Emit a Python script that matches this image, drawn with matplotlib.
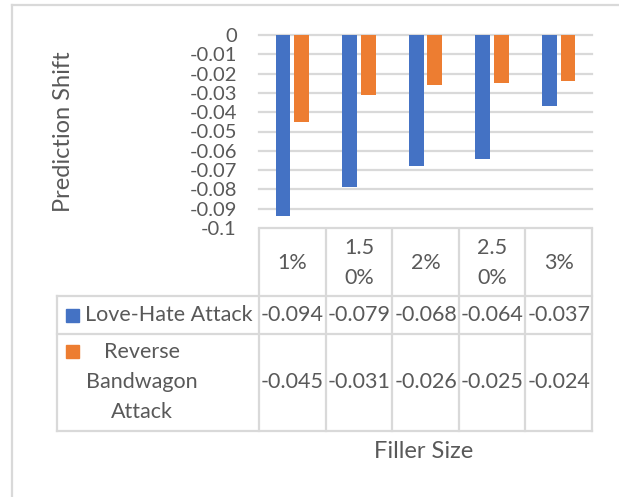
import matplotlib.pyplot as plt
import matplotlib.transforms as mtransforms
from matplotlib.lines import Line2D
from matplotlib.patches import Rectangle
import numpy as np

# data
filler_sizes = ['1%', '1.5\n0%', '2%', '2.5\n0%', '3%']
love_hate = [-0.094, -0.079, -0.068, -0.064, -0.037]
reverse_bandwagon = [-0.045, -0.031, -0.026, -0.025, -0.024]
series_names = ['Love-Hate Attack', 'Reverse\nBandwagon\nAttack']
y_ticks = [0, -0.01, -0.02, -0.03, -0.04, -0.05, -0.06, -0.07, -0.08, -0.09, -0.1]

blue = '#4472C4'
orange = '#ED7D31'
grid_c = '#D9D9D9'
text_c = '#595959'

plt.rcParams['font.family'] = ['Lato', 'DejaVu Sans']

W, H = 619, 497
fig = plt.figure(figsize=(W / 100, H / 100), dpi=100)


def fx(px):
    return px / W


def fy(py):
    return 1 - py / H


# plot area in pixel coords: x 259..592, y 35..228
ax = fig.add_axes([fx(259), fy(228), fx(592) - fx(259), fy(35) - fy(228)])
x = np.arange(len(filler_sizes))
ax.bar(x - 0.14, love_hate, width=0.22, color=blue, zorder=3)
ax.bar(x + 0.14, reverse_bandwagon, width=0.22, color=orange, zorder=3)
ax.set_xlim(-0.5, len(filler_sizes) - 0.5)
ax.set_ylim(-0.1, 0)
ax.set_yticks(y_ticks)
ax.set_yticklabels(['{:g}'.format(t) for t in y_ticks])
ax.set_xticks([])
ax.tick_params(axis='y', length=0, pad=16, labelsize=14.5, labelcolor=text_c)
for s in ax.spines.values():
    s.set_visible(False)
for t in y_ticks:
    ax.axhline(t, color=grid_c, lw=1.6, zorder=1, clip_on=False)

# data table below the plot
tr = mtransforms.blended_transform_factory(ax.transData, fig.transFigure)
row_top, row_hdr, row1, row2 = 229, 296, 334, 431
edges = np.arange(len(filler_sizes) + 1) - 0.5
for e in edges:
    fig.add_artist(Line2D([e, e], [fy(row_top), fy(row2)], transform=tr,
                          color=grid_c, lw=1.6))
for yy in [row_hdr, row1, row2]:
    fig.add_artist(Line2D([fx(57), fx(592)], [fy(yy), fy(yy)],
                          transform=fig.transFigure, color=grid_c, lw=1.6))
fig.add_artist(Line2D([fx(57), fx(57)], [fy(row_hdr), fy(row2)],
                      transform=fig.transFigure, color=grid_c, lw=1.6))

fs = 15.5
for i, lab in enumerate(filler_sizes):
    fig.text(x[i], fy(263), lab, transform=tr, ha='center', va='center',
             fontsize=fs, color=text_c, linespacing=1.62)
    fig.text(x[i], fy(315), '{:g}'.format(love_hate[i]), transform=tr,
             ha='center', va='center', fontsize=fs, color=text_c)
    fig.text(x[i], fy(382), '{:g}'.format(reverse_bandwagon[i]), transform=tr,
             ha='center', va='center', fontsize=fs, color=text_c)

# legend keys inside the table
fig.add_artist(Rectangle((fx(66), fy(322)), fx(13), 13 / H, color=blue,
                         transform=fig.transFigure))
fig.add_artist(Rectangle((fx(66), fy(358)), fx(13), 13 / H, color=orange,
                         transform=fig.transFigure))
fig.text(fx(85), fy(315), series_names[0], ha='left', va='center',
         fontsize=fs, color=text_c)
fig.text(fx(142), fy(382), series_names[1], ha='center', va='center',
         fontsize=fs, color=text_c, linespacing=1.62)

fig.text(fx(63), fy(132), 'Prediction Shift', rotation=90, ha='center',
         va='center', fontsize=17, color=text_c)
fig.text(fx(424), fy(452), 'Filler Size', ha='center', va='center',
         fontsize=17, color=text_c)

# chart border
fig.add_artist(Line2D([fx(12), 1], [fy(5), fy(5)], transform=fig.transFigure,
                      color=grid_c, lw=1.6))
fig.add_artist(Line2D([fx(12), fx(12)], [fy(5), 0], transform=fig.transFigure,
                      color=grid_c, lw=1.6))

fig.savefig('out.png', dpi=100)
